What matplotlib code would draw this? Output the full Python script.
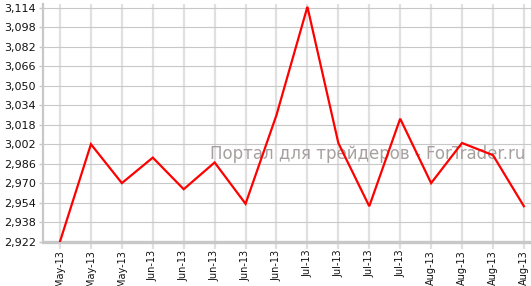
import matplotlib
matplotlib.use("Agg")
import matplotlib.pyplot as plt
from matplotlib.ticker import FuncFormatter

# данные с графика
labels = ["May-13", "May-13", "May-13",
          "Jun-13", "Jun-13", "Jun-13", "Jun-13", "Jun-13",
          "Jul-13", "Jul-13", "Jul-13", "Jul-13",
          "Aug-13", "Aug-13", "Aug-13", "Aug-13"]
values = [2922, 3002, 2970, 2991, 2965, 2987, 2953, 3026,
          3115, 3003, 2951, 3023, 2970, 3003, 2993, 2951]
yticks = [2922, 2938, 2954, 2970, 2986, 3002, 3018, 3034,
          3050, 3066, 3082, 3098, 3114]

fig = plt.figure(figsize=(5.31, 2.86), dpi=100)
ax = fig.add_axes([43 / 531, 44.5 / 286, 488 / 531, 237.5 / 286])

x = list(range(len(values)))
ax.plot(x, values, color="#ff0000", linewidth=1.6, zorder=3, solid_joinstyle="miter")

ax.set_xlim(-0.55, 15.23)
ax.set_ylim(2922, 3117.3)
ax.set_yticks(yticks)
ax.yaxis.set_major_formatter(FuncFormatter(lambda v, p: "{:,}".format(int(v))))
ax.set_xticks(x)
ax.set_xticklabels(labels, rotation=90, fontsize=7, color="#111111")
ax.tick_params(axis="y", labelsize=8, length=3, width=1, color="#c8c8c8", pad=2, labelcolor="#111111")
ax.tick_params(axis="x", length=5, width=1.6, color="#e0e0e0", pad=1)

# сетка
ax.set_axisbelow(True)
ax.grid(axis="y", color="#c8c8c8", linewidth=0.8)
ax.grid(axis="x", color="#e0e0e0", linewidth=1.6)

for s in ["top", "right"]:
    ax.spines[s].set_visible(False)
ax.spines["left"].set_color("#c8c8c8")
ax.spines["left"].set_linewidth(1.6)
ax.spines["bottom"].set_color("#c8c8c8")
ax.spines["bottom"].set_linewidth(2.4)

# водяной знак
ax.text(525 / 531 * 531 / 488 - 43 / 488, (286 - 154 - 44.5) / 237.5,
        "Портал для трейдеров - ForTrader.ru", transform=ax.transAxes,
        ha="right", va="center", fontsize=12, color="#a8a0a0", zorder=2)

fig.savefig("out.png", dpi=100)
